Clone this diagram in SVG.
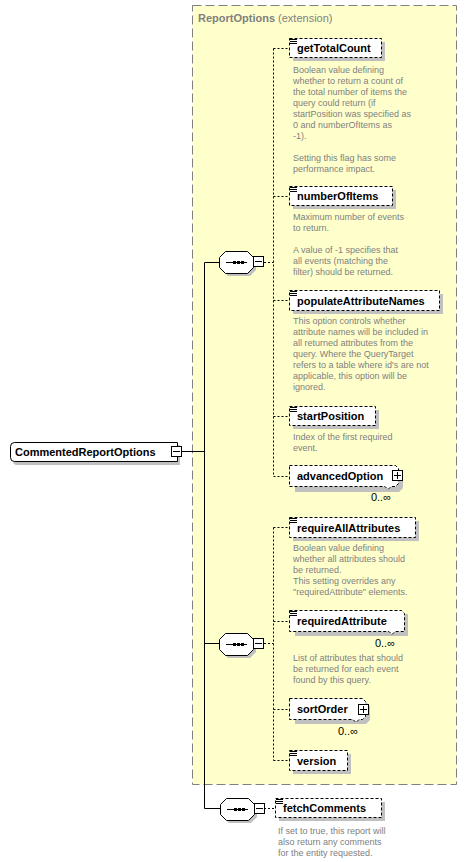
<svg xmlns="http://www.w3.org/2000/svg" width="467" height="862" viewBox="0 0 467 862">
<style>
.lbl{font-family:"Liberation Sans",Arial,sans-serif;font-weight:bold;font-size:11px;fill:#000}
.doc{font-family:"Liberation Sans",Arial,sans-serif;font-size:9px;fill:#808080}
.occ{font-family:"Liberation Sans",Arial,sans-serif;font-size:11px;fill:#000}
.ttl{font-family:"Liberation Sans",Arial,sans-serif;font-size:11px;fill:#808080}
.el{fill:#fff;stroke:#000;stroke-width:1;stroke-dasharray:3,2}
.sh{fill:#c0c0c0;stroke:none}
.dot{fill:none;stroke:#000;stroke-width:1;stroke-dasharray:2,2}
.sol{fill:none;stroke:#000;stroke-width:1}
.btn{fill:#fff;stroke:#000;stroke-width:1}
.ico{stroke:#000;stroke-width:1}
</style>
<rect width="467" height="862" fill="#fff"/>
<g id="extension">
<rect x="192.5" y="5.5" width="264" height="779" fill="#ffffcc" stroke="#808080" stroke-dasharray="9,4"/>
<text x="198" y="22" class="ttl"><tspan font-weight="bold">ReportOptions</tspan> (extension)</text>
</g>
<g id="connectors">
<path class="sol" d="M182,451.5H204.5M204.5,262.5V808.5M204.5,262.5H219M204.5,643.5H219M204.5,808.5H220"/>
<path class="dot" d="M264,262.5H273.5M273.5,48.5V476.5M273.5,48.5H289M273.5,196.5H289M273.5,300.5H289M273.5,416.5H289M273.5,476.5H289"/>
<path class="dot" d="M264,643.5H273.5M273.5,527.5V760.5M273.5,527.5H289M273.5,621.5H289M273.5,709.5H289M273.5,760.5H289"/>
<path class="dot" d="M264,808.5H276"/>
</g>
<g id="root">
<path class="sh" d="M17,445H180V465H17Q13,465 13,461V449Q13,445 17,445Z"/>
<path d="M14.5,442.5H177.5V461.5H14.5Q10.5,461.5 10.5,457.5V446.5Q10.5,442.5 14.5,442.5Z" fill="#fff" stroke="#000"/>
<text x="15" y="456" class="lbl">CommentedReportOptions</text>
<rect x="171.5" y="446.5" width="10" height="10" class="btn"/>
<path class="sol" d="M173,451.5H180"/>
</g>
<g id="seq1">
<path class="sh" d="M228,254H250L256,260V270L250,276H228L222,270V260Z"/>
<path d="M225.5,251.5H247.5L253.5,257.5V267.5L247.5,273.5H225.5L219.5,267.5V257.5Z" fill="#fff" stroke="#000"/>
<path class="sol" d="M226,262.5H247"/>
<rect x="233" y="261" width="3" height="3"/><rect x="237" y="261" width="3" height="3"/><rect x="241" y="261" width="3" height="3"/>
<rect x="253.5" y="256.5" width="10" height="10" class="btn"/>
<path class="sol" d="M255,261.5H262"/>
</g>
<g id="seq2">
<path class="sh" d="M228,636H250L256,642V652L250,658H228L222,652V642Z"/>
<path d="M225.5,633.5H247.5L253.5,639.5V649.5L247.5,655.5H225.5L219.5,649.5V639.5Z" fill="#fff" stroke="#000"/>
<path class="sol" d="M226,644.5H247"/>
<rect x="233" y="643" width="3" height="3"/><rect x="237" y="643" width="3" height="3"/><rect x="241" y="643" width="3" height="3"/>
<rect x="253.5" y="638.5" width="10" height="10" class="btn"/>
<path class="sol" d="M255,643.5H262"/>
</g>
<g id="seq3">
<path class="sh" d="M229,801H251L257,807V817L251,823H229L223,817V807Z"/>
<path d="M226.5,798.5H248.5L254.5,804.5V814.5L248.5,820.5H226.5L220.5,814.5V804.5Z" fill="#fff" stroke="#000"/>
<path class="sol" d="M227,809.5H248"/>
<rect x="234" y="808" width="3" height="3"/><rect x="238" y="808" width="3" height="3"/><rect x="242" y="808" width="3" height="3"/>
<rect x="254.5" y="803.5" width="10" height="10" class="btn"/>
<path class="sol" d="M256,808.5H263"/>
</g>
<g id="getTotalCount">
<rect x="293" y="42" width="92" height="19" class="sh"/>
<rect x="289.5" y="38.5" width="92" height="19" class="el"/>
<path class="ico" d="M290,39.5H297M290,41.5H297M290,43.5H297"/>
<text x="297" y="52" class="lbl">getTotalCount</text>
<text class="doc"><tspan x="293" y="73">Boolean value defining</tspan><tspan x="293" y="84">whether to return a count of</tspan><tspan x="293" y="95">the total number of items the</tspan><tspan x="293" y="106">query could return (if</tspan><tspan x="293" y="117">startPosition was specified as</tspan><tspan x="293" y="128">0 and numberOfItems as</tspan><tspan x="293" y="139">-1).</tspan><tspan x="293" y="161">Setting this flag has some</tspan><tspan x="293" y="172">performance impact.</tspan></text>
</g>
<g id="numberOfItems">
<rect x="293" y="190" width="103" height="19" class="sh"/>
<rect x="289.5" y="186.5" width="103" height="19" class="el"/>
<path class="ico" d="M290,187.5H297M290,189.5H297M290,191.5H297"/>
<text x="297" y="200" class="lbl">numberOfItems</text>
<text class="doc"><tspan x="293" y="220">Maximum number of events</tspan><tspan x="293" y="231">to return.</tspan><tspan x="293" y="253">A value of  -1 specifies that</tspan><tspan x="293" y="264">all events (matching the</tspan><tspan x="293" y="275">filter) should be returned.</tspan></text>
</g>
<g id="populateAttributeNames">
<rect x="293" y="294" width="150" height="20" class="sh"/>
<rect x="289.5" y="290.5" width="150" height="20" class="el"/>
<path class="ico" d="M290,291.5H297M290,293.5H297M290,295.5H297"/>
<text x="297" y="305" class="lbl">populateAttributeNames</text>
<text class="doc"><tspan x="293" y="324">This option controls whether</tspan><tspan x="293" y="335">attribute names will be included in</tspan><tspan x="293" y="346">all returned attributes from the</tspan><tspan x="293" y="357">query. Where the QueryTarget</tspan><tspan x="293" y="368">refers to a table where id's are not</tspan><tspan x="293" y="379">applicable, this option will be</tspan><tspan x="293" y="390">ignored.</tspan></text>
</g>
<g id="startPosition">
<rect x="293" y="410" width="86" height="19" class="sh"/>
<rect x="289.5" y="406.5" width="86" height="19" class="el"/>
<path class="ico" d="M290,407.5H297M290,409.5H297M290,411.5H297"/>
<text x="297" y="420" class="lbl">startPosition</text>
<text class="doc"><tspan x="293" y="440">Index of the first required</tspan><tspan x="293" y="451">event.</tspan></text>
</g>
<g id="advancedOption">
<path class="sh" d="M295,469H399L403,473V488L399,492H295Z"/>
<path class="el" d="M289.5,465.5H395.5L398.5,468.5V483.5L395.5,486.5H391L388,489.5L385,486.5H289.5Z"/>
<text x="297" y="480" class="lbl">advancedOption</text>
<rect x="392.5" y="470.5" width="10" height="10" class="btn"/>
<path class="sol" d="M394,475.5H401M397.5,472V479"/>
<text x="391" y="501" class="occ" text-anchor="end">0..∞</text>
</g>
<g id="requireAllAttributes">
<rect x="293" y="521" width="126" height="20" class="sh"/>
<rect x="289.5" y="517.5" width="126" height="20" class="el"/>
<path class="ico" d="M290,518.5H297M290,520.5H297M290,522.5H297"/>
<text x="297" y="532" class="lbl">requireAllAttributes</text>
<text class="doc"><tspan x="293" y="551">Boolean value defining</tspan><tspan x="293" y="562">whether all attributes should</tspan><tspan x="293" y="573">be returned.</tspan><tspan x="293" y="584">This setting overrides any</tspan><tspan x="293" y="595">"requiredAttribute" elements.</tspan></text>
</g>
<g id="requiredAttribute">
<rect x="295" y="614" width="113" height="22" class="sh"/>
<path class="el" d="M289.5,610.5H401.5L404.5,613.5V631.5H395L392,634.5L389,631.5H289.5Z"/>
<path class="ico" d="M290,611.5H297M290,613.5H297M290,615.5H297"/>
<text x="297" y="625" class="lbl">requiredAttribute</text>
<text x="395" y="647" class="occ" text-anchor="end">0..∞</text>
<text class="doc"><tspan x="293" y="661">List of attributes that should</tspan><tspan x="293" y="672">be returned for each event</tspan><tspan x="293" y="683">found by this query.</tspan></text>
</g>
<g id="sortOrder">
<path class="sh" d="M295,702H366L370,706V720L366,724H295Z"/>
<path class="el" d="M289.5,698.5H362.5L365.5,701.5V716.5L362.5,719.5H359L356,722.5L353,719.5H289.5Z"/>
<text x="297" y="713" class="lbl">sortOrder</text>
<rect x="358.5" y="704.5" width="10" height="10" class="btn"/>
<path class="sol" d="M360,709.5H367M363.5,706V713"/>
<text x="358" y="735" class="occ" text-anchor="end">0..∞</text>
</g>
<g id="version">
<rect x="293" y="754" width="58" height="20" class="sh"/>
<rect x="289.5" y="750.5" width="58" height="20" class="el"/>
<path class="ico" d="M290,751.5H297M290,753.5H297M290,755.5H297"/>
<text x="297" y="765" class="lbl">version</text>
</g>
<g id="fetchComments">
<rect x="279" y="802" width="106" height="19" class="sh"/>
<rect x="275.5" y="798.5" width="106" height="19" class="el"/>
<path class="ico" d="M276,799.5H283M276,801.5H283M276,803.5H283"/>
<text x="283" y="812" class="lbl">fetchComments</text>
<text class="doc"><tspan x="278" y="834">If set to true, this report will</tspan><tspan x="278" y="845">also return any comments</tspan><tspan x="278" y="856">for the entity requested.</tspan></text>
</g>
</svg>
